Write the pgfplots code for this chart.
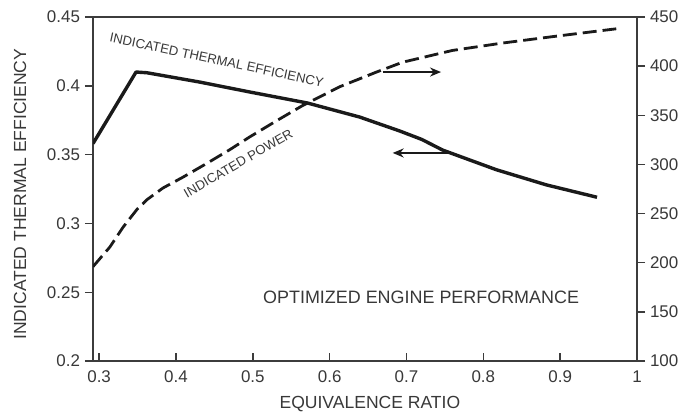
\documentclass[border=0pt]{standalone}
\usepackage{pgfplots}
\pgfplotsset{compat=1.18}
\usepackage{pgfplotstable}
\usepackage{fontspec}
\setmainfont{Liberation Sans}
\usetikzlibrary{arrows.meta}

\definecolor{ink}{HTML}{1A1A1A}
\definecolor{txt}{HTML}{383838}
\definecolor{frame}{HTML}{3C3C3C}

% indicated thermal efficiency vs equivalence ratio
\pgfplotstableread{
phi   eff
0.292 0.358
0.348 0.410
0.362 0.4095
0.431 0.4027
0.496 0.3955
0.571 0.3875
0.639 0.3773
0.691 0.3672
0.720 0.3610
0.747 0.3533
0.817 0.3390
0.882 0.3280
0.948 0.3190
}\efftable

% indicated power vs equivalence ratio
\pgfplotstableread{
phi   pow
0.292 196
0.314 216
0.331 236
0.349 254
0.362 264
0.383 276
0.409 287
0.440 301
0.470 315
0.496 328
0.530 344
0.565 360
0.613 379
0.661 394
0.695 404
0.760 416
0.825 423.5
0.890 430
0.973 438
}\powtable

\pgfplotsset{
  common/.style={
    scale only axis, width=272bp, height=172bp,
    xmin=0.292, xmax=1,
    axis line style={frame, line width=0.8bp},
    tick style={frame, line width=0.7bp},
    major tick length=4bp,
    tick align=inside,
    tick label style={font=\fontsize{8.5}{10}\selectfont, text=txt},
    /pgf/number format/assume math mode=true,
    label style={font=\fontsize{8.8}{10}\selectfont, text=txt},
  }
}

\begin{document}
\begin{tikzpicture}
\useasboundingbox (-46.5bp,-28bp) rectangle (294.5bp,180.5bp);

\begin{axis}[common,
  ymin=0.2, ymax=0.45,
  xtick={0.3,0.4,0.5,0.6,0.7,0.8,0.9,1},
  xticklabels={0.3,0.4,0.5,0.6,0.7,0.8,0.9,1},
  ytick={0.2,0.25,0.3,0.35,0.4,0.45},
  yticklabels={0.2,0.25,0.3,0.35,0.4,0.45},
  xtick pos=left, ytick pos=left,
  y tick style={xshift=-4bp},
  yticklabel style={xshift=-3bp},
  xticklabel style={yshift=-1.5bp},
  xlabel={EQUIVALENCE RATIO},
  ylabel={INDICATED THERMAL EFFICIENCY},
  xlabel style={at={(axis description cs:0.509,-0.125)}, anchor=center},
  ylabel style={at={(axis description cs:-0.134,0.485)}, anchor=center},
]
\addplot[ink, line width=1.7bp, line join=round] table[x=phi, y=eff] {\efftable};
\draw[ink, line width=1.1bp, -{Stealth[length=5.5bp,width=4.5bp]}]
  (axis cs:0.760,0.3512) -- (axis cs:0.682,0.3512);
\node[rotate=-12, font=\fontsize{6.6}{8}\selectfont, text=txt]
  at (axis cs:0.453,0.4187) {INDICATED THERMAL EFFICIENCY};
\node[rotate=30, font=\fontsize{6.6}{8}\selectfont, text=txt]
  at (axis cs:0.481,0.3436) {INDICATED POWER};
\node[font=\fontsize{9}{11}\selectfont, text=txt]
  at (axis cs:0.719,0.2465) {OPTIMIZED ENGINE PERFORMANCE};
\end{axis}

\begin{axis}[common,
  ymin=100, ymax=450,
  hide x axis,
  axis y line*=right,
  ytick={100,150,...,450},
  y tick style={xshift=4bp},
  yticklabel style={xshift=3bp},
]
\addplot[ink, line width=1.4bp, dash pattern=on 7bp off 3bp] table[x=phi, y=pow] {\powtable};
\draw[ink, line width=1.1bp, -{Stealth[length=5.5bp,width=4.5bp]}]
  (axis cs:0.669,394) -- (axis cs:0.745,394);
\end{axis}
\end{tikzpicture}
\end{document}
